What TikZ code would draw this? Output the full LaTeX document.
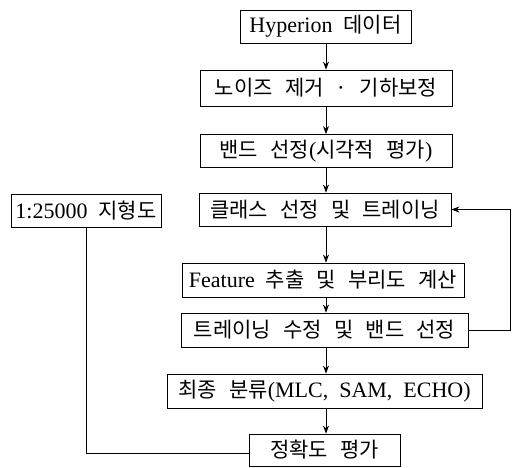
\documentclass[tikz,border=0pt]{standalone}
\usepackage{fontspec}
\setmainfont{Liberation Serif}[Scale=1.1, WordSpace=2]
\newfontfamily\cjk{Noto Sans CJK KR}[Scale=1.05, WordSpace=2.6]
\usetikzlibrary{arrows.meta}
\begin{document}
\begin{tikzpicture}[x=1pt,y=-1pt,
  box/.style={draw, line width=0.8pt, inner sep=0pt, font=\fontsize{20}{24}\selectfont},
  arr/.style={line width=0.8pt, -{Stealth[length=8pt,width=6pt]}},
  ln/.style={line width=0.8pt}]
\useasboundingbox (0,0) rectangle (516,467);
\node[box, minimum width=171, minimum height=33] (b1) at (325.5,26.5) {Hyperion {\cjk 데이터}};
\node[box, minimum width=252, minimum height=36] (b2) at (326,88) {{\cjk 노이즈 제거 · 기하보정}};
\node[box, minimum width=252, minimum height=33] (b3) at (326,151) {{\cjk 밴드 선정}({\cjk 시각적 평가})};
\node[box, minimum width=252, minimum height=33] (b4) at (325,209.5) {{\cjk 클래스 선정 및 트레이닝}};
\node[box, minimum width=150, minimum height=33] (m) at (86,210.5) {1:25000 {\cjk 지형도}};
\node[box, minimum width=282, minimum height=34] (b5) at (323,280) {Feature {\cjk 추출 및 부리도 계산}};
\node[box, minimum width=287, minimum height=34] (b6) at (324.5,330) {{\cjk 트레이닝 수정 및 밴드 선정}};
\node[box, minimum width=315, minimum height=34] (b7) at (324.5,391) {{\cjk 최종 분류}(MLC, SAM, ECHO)};
\node[box, minimum width=151, minimum height=32] (b8) at (324.5,450) {{\cjk 정확도 평가}};
\coordinate (c1) at (510,330);
\coordinate (c2) at (510,209.5);
\coordinate (d1) at (86,453);
\draw[arr] (b1.south -| 326,0) -- (b2.north -| 326,0);
\draw[arr] (b2.south -| 326,0) -- (b3.north -| 326,0);
\draw[arr] (b3.south -| 326,0) -- (b4.north -| 326,0);
\draw[arr] (b4.south -| 326,0) -- (b5.north -| 326,0);
\draw[arr] (b5.south -| 326,0) -- (b6.north -| 326,0);
\draw[arr] (b6.south -| 326,0) -- (b7.north -| 326,0);
\draw[arr] (b7.south -| 326,0) -- (b8.north -| 326,0);
\draw[arr] (b6.east) -- (c1) -- (c2) -- (b4.east);
\draw[ln] (m.south) -- (d1) -- (b8.west |- d1);
\end{tikzpicture}
\end{document}
